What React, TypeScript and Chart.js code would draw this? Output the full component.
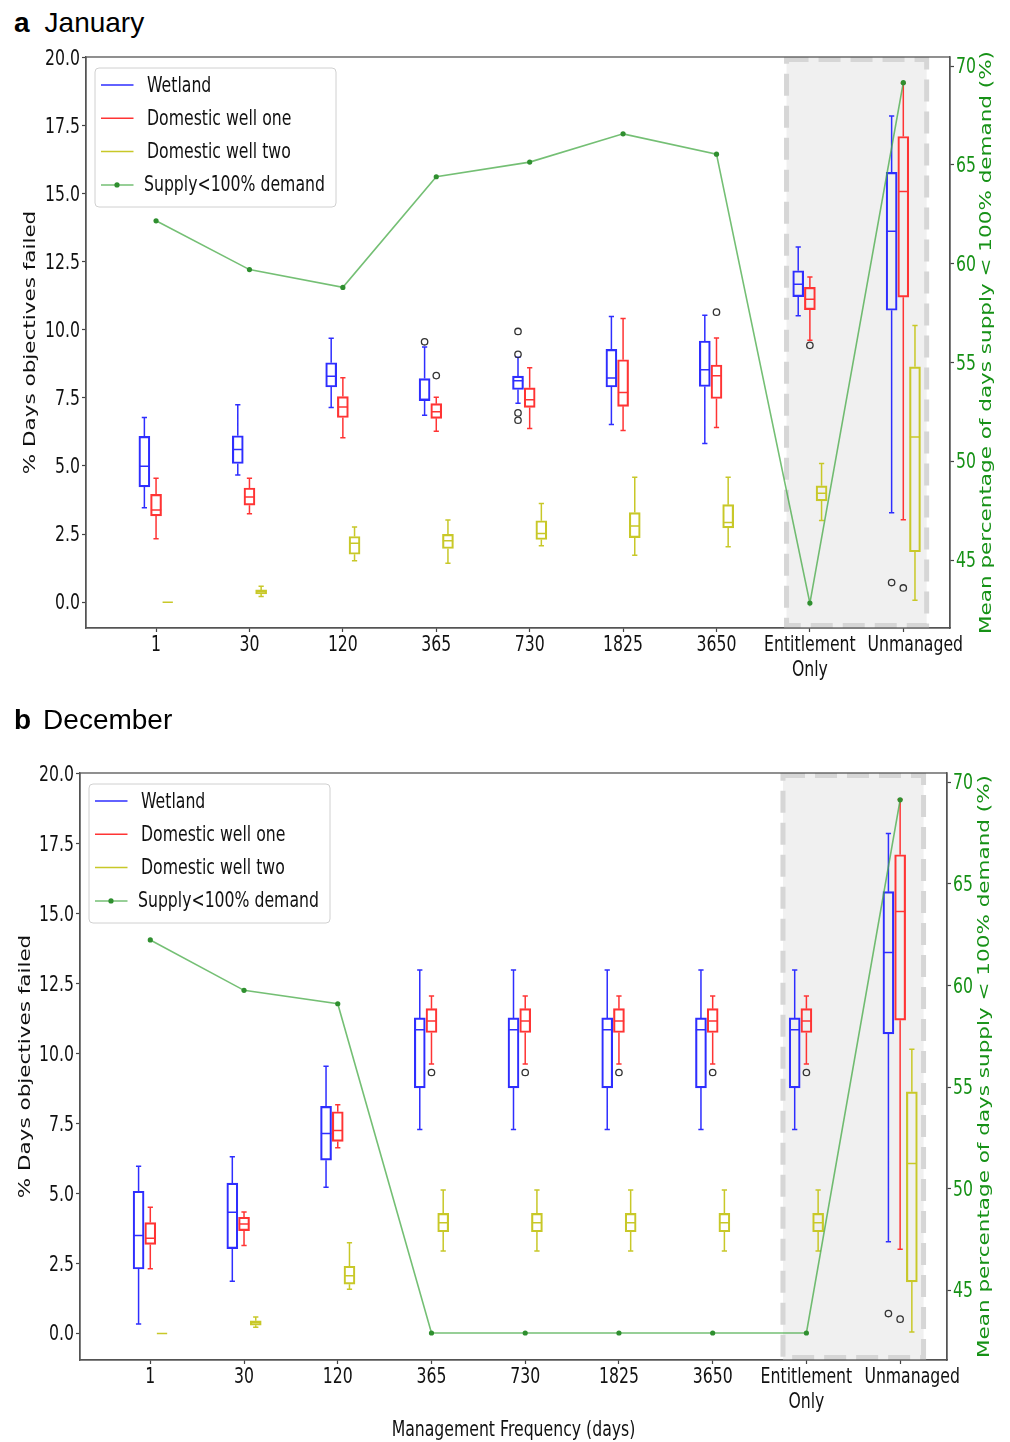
import React, { useEffect, useRef } from "react";
import { Chart, registerables } from "chart.js";
Chart.register(...registerables);

// ---------- data ----------
const categories: string[][] = [["1"], ["30"], ["120"], ["365"], ["730"], ["1825"], ["3650"], ["Entitlement", "Only"], ["Unmanaged"]];
const seriesNames = ["Wetland", "Domestic well one", "Domestic well two"];
const supplyName = "Supply<100% demand";
const leftTicks = [0, 2.5, 5, 7.5, 10, 12.5, 15, 17.5, 20];
const rightTicks = [45, 50, 55, 60, 65, 70];
const leftTitle = "% Days objectives failed";
const rightTitle = "Mean percentage of days supply < 100% demand (%)";
const xTitle = "Management Frequency (days)";

// box stats per category: [lower whisker, Q1, median, Q3, upper whisker]
const janWetland = [
  [3.47, 4.23, 4.99, 6.09, 6.78], [4.67, 5.09, 5.61, 6.11, 7.25], [7.15, 7.9, 8.3, 8.79, 9.69],
  [6.86, 7.4, 7.44, 8.21, 9.37], [7.3, 7.81, 8.13, 8.3, 8.99], [6.52, 7.9, 8.23, 9.28, 10.49],
  [5.83, 7.92, 8.53, 9.59, 10.54], [10.52, 11.22, 11.67, 12.17, 13.04], [3.28, 10.72, 13.62, 15.78, 17.85],
];
const janWetlandOut = [[], [], [], [9.56], [9.94, 9.1, 6.95, 6.68], [], [], [], [0.72]];
const janWellOne = [
  [2.33, 3.17, 3.38, 3.96, 4.55], [3.25, 3.56, 3.86, 4.19, 4.55], [6.04, 6.78, 7.17, 7.55, 8.24],
  [6.28, 6.75, 6.99, 7.29, 7.52], [6.38, 7.15, 7.43, 7.87, 8.61], [6.3, 7.19, 7.7, 8.9, 10.42],
  [6.41, 7.48, 8.31, 8.71, 9.7], [9.62, 10.74, 11.12, 11.56, 11.94], [3.03, 11.2, 15.08, 17.1, 19.06],
];
const janWellOneOut = [[], [], [], [8.32], [], [], [10.65], [9.43], [0.52]];
const janWellTwo = [
  [0, 0, 0, 0, 0], [0.21, 0.3, 0.39, 0.45, 0.58], [1.52, 1.76, 2.16, 2.41, 2.76],
  [1.43, 1.97, 2.25, 2.49, 3.02], [2.07, 2.3, 2.52, 2.99, 3.62], [1.72, 2.37, 2.8, 3.29, 4.59],
  [2.03, 2.73, 2.92, 3.58, 4.59], [3.0, 3.72, 4.0, 4.27, 5.09], [0.07, 1.85, 6.06, 8.64, 10.16],
];
const janWellTwoOut = [[], [], [], [], [], [], [], [], []];
const janSupply = [62.17, 59.7, 58.8, 64.4, 65.14, 66.57, 65.54, 42.82, 69.16];

const decWetland = [
  [0.34, 2.3, 3.5, 5.08, 5.97], [1.86, 3.03, 4.33, 5.37, 6.31], [5.22, 6.19, 7.14, 8.11, 9.54],
  [7.28, 8.77, 10.85, 11.27, 12.98], [7.28, 8.77, 10.85, 11.27, 12.98], [7.28, 8.77, 10.85, 11.27, 12.98],
  [7.28, 8.77, 10.85, 11.27, 12.98], [7.28, 8.77, 10.85, 11.27, 12.98], [3.27, 10.7, 13.61, 15.78, 17.86],
];
const decWetlandOut = [[], [], [], [], [], [], [], [], [0.71]];
const decWellOne = [
  [2.31, 3.18, 3.4, 3.96, 4.51], [3.14, 3.67, 3.91, 4.15, 4.34], [6.63, 6.86, 7.25, 7.92, 8.17],
  [9.62, 10.75, 11.16, 11.6, 12.05], [9.62, 10.75, 11.16, 11.6, 12.05], [9.62, 10.75, 11.16, 11.6, 12.05],
  [9.62, 10.75, 11.16, 11.6, 12.05], [9.62, 10.75, 11.16, 11.6, 12.05], [3.01, 11.19, 15.07, 17.1, 19.07],
];
const decWellOneOut = [[], [], [], [9.32], [9.32], [9.32], [9.32], [9.32], [0.51]];
const decWellTwo = [
  [0, 0, 0, 0, 0], [0.22, 0.29, 0.38, 0.45, 0.59], [1.58, 1.76, 2.06, 2.4, 3.24],
  [2.94, 3.63, 3.95, 4.29, 5.12], [2.94, 3.63, 3.95, 4.29, 5.12], [2.94, 3.63, 3.95, 4.29, 5.12],
  [2.94, 3.63, 3.95, 4.29, 5.12], [2.94, 3.63, 3.95, 4.29, 5.12], [0.05, 1.84, 6.07, 8.63, 10.15],
];
const decWellTwoOut = [[], [], [], [], [], [], [], [], []];
const decSupply = [62.24, 59.76, 59.1, 42.89, 42.89, 42.89, 42.89, 42.89, 69.14];

// shaded region (x units)
const shadeRange = [6.75, 8.25];

// ---------- styling ----------
const COLORS = ["#2e2eff", "#ff3434", "#c8c828"];
const GREEN_LINE = "rgba(70,170,70,0.75)";
const GREEN_DOT = "#2f8f2f";
const GREEN_TXT = "#169116";
const TXT = "#111";
const SX = 0.73; // horizontal squeeze of all figure text
const FONT = "21.5px 'DejaVu Sans', sans-serif";
const OFFSETS = [-0.125, 0, 0.125];
const BOX_HALF = 0.055;
const CAP_HALF = 0.028;
const X_LABEL_NUDGE = [0, 0, 0, 0, 0, 0, 0, 0, 12]; // px shift of tick label text

type PanelCfg = {
  top: number; height: number; padTop: number; leftW: number; rightW: number; xH: number;
  lTitleX: number; rTitleX: number; xLabelDy: number; xTitleY?: number;
  stats: number[][][]; outs: number[][][]; supply: number[];
};

function sqText(ctx: CanvasRenderingContext2D, text: string, x: number, y: number,
  align: CanvasTextAlign, color: string, rot = 0) {
  ctx.save();
  ctx.translate(x, y);
  ctx.scale(SX, 1);
  if (rot) ctx.rotate(rot);
  ctx.font = FONT;
  ctx.fillStyle = color;
  ctx.textAlign = align;
  ctx.textBaseline = "middle";
  ctx.fillText(text, 0, 0);
  ctx.restore();
}

function buildDatasets(p: PanelCfg) {
  const ds: any[] = [];
  ds.push({
    type: "line", label: supplyName, yAxisID: "y1", xAxisID: "x",
    data: p.supply.map((v, i) => ({ x: i, y: v })),
    borderColor: GREEN_LINE, borderWidth: 1.6, pointRadius: 2.6, pointHoverRadius: 2.6,
    pointBackgroundColor: GREEN_DOT, pointBorderWidth: 0, tension: 0, fill: false,
  });
  p.stats.forEach((stats, k) => {
    const off = OFFSETS[k];
    const outPts: any[] = [];
    p.outs[k].forEach((arr, i) => arr.forEach((v) => outPts.push({ x: i + off, y: v })));
    ds.push({
      type: "line", label: seriesNames[k] + " outliers", yAxisID: "y", xAxisID: "x", data: outPts,
      showLine: false, pointRadius: 3.2, pointStyle: "circle", pointBackgroundColor: "rgba(0,0,0,0)",
      pointBorderColor: "#333", pointBorderWidth: 1.3,
    });
    const segs: any[] = [];
    stats.forEach((s, i) => {
      const x = i + off;
      const gap = { x, y: null };
      segs.push({ x, y: s[0] }, { x, y: s[1] }, gap);
      segs.push({ x, y: s[3] }, { x, y: s[4] }, gap);
      segs.push({ x: x - CAP_HALF, y: s[0] }, { x: x + CAP_HALF, y: s[0] }, gap);
      segs.push({ x: x - CAP_HALF, y: s[4] }, { x: x + CAP_HALF, y: s[4] }, gap);
      segs.push({ x: x - BOX_HALF, y: s[2] }, { x: x + BOX_HALF, y: s[2] }, gap);
    });
    ds.push({
      type: "line", label: seriesNames[k] + " whiskers", yAxisID: "y", xAxisID: "x", data: segs,
      borderColor: COLORS[k], borderWidth: 1.5, pointRadius: 0, spanGaps: false, tension: 0, fill: false,
    });
    ds.push({
      type: "bar", label: seriesNames[k], yAxisID: "y", xAxisID: "x",
      data: stats.map((s, i) => ({ x: i + off, y: [s[1], s[3]] })),
      backgroundColor: "rgba(0,0,0,0)", borderColor: COLORS[k], borderWidth: 1.5, borderSkipped: false,
      barThickness: 11, grouped: false,
    });
  });
  return ds;
}

function drawLegend(ctx: CanvasRenderingContext2D, area: any) {
  const bx = area.left + 9, by = area.top + 11, bw = 241, bh = 139, r = 4;
  ctx.save();
  ctx.beginPath();
  ctx.moveTo(bx + r, by);
  ctx.arcTo(bx + bw, by, bx + bw, by + bh, r);
  ctx.arcTo(bx + bw, by + bh, bx, by + bh, r);
  ctx.arcTo(bx, by + bh, bx, by, r);
  ctx.arcTo(bx, by, bx + bw, by, r);
  ctx.closePath();
  ctx.fillStyle = "rgba(255,255,255,0.85)";
  ctx.fill();
  ctx.strokeStyle = "#d0d0d0";
  ctx.lineWidth = 1;
  ctx.stroke();
  const names = [...seriesNames, supplyName];
  const cols = [...COLORS, GREEN_LINE];
  names.forEach((n, k) => {
    const y = by + 17 + 33.3 * k;
    ctx.beginPath();
    ctx.moveTo(bx + 6, y);
    ctx.lineTo(bx + 38.5, y);
    ctx.strokeStyle = cols[k];
    ctx.lineWidth = 1.5;
    ctx.stroke();
    if (k === 3) {
      ctx.beginPath();
      ctx.arc(bx + 22, y, 2.6, 0, Math.PI * 2);
      ctx.fillStyle = GREEN_DOT;
      ctx.fill();
    }
    sqText(ctx, n, bx + (k === 3 ? 49 : 52), y + 1, "left", TXT);
  });
  ctx.restore();
}

function makeDecor(p: PanelCfg) {
  return {
    id: "decor",
    beforeDatasetsDraw(chart: any) {
      const { ctx, chartArea: a, scales } = chart;
      const x0 = scales.x.getPixelForValue(shadeRange[0]);
      const x1 = scales.x.getPixelForValue(shadeRange[1]);
      ctx.save();
      ctx.fillStyle = "#f0f0f0";
      ctx.fillRect(x0, a.top, x1 - x0, a.bottom - a.top);
      ctx.strokeStyle = "#d6d6d6";
      ctx.lineWidth = 5;
      ctx.setLineDash([22, 10]);
      ctx.strokeRect(x0, a.top + 2.5, x1 - x0, a.bottom - a.top - 5);
      ctx.restore();
    },
    afterDraw(chart: any) {
      const { ctx, chartArea: a, scales } = chart;
      ctx.save();
      ctx.strokeStyle = "#555";
      ctx.lineWidth = 1.3;
      ctx.strokeRect(a.left, a.top, a.right - a.left, a.bottom - a.top);
      ctx.restore();
      // tick labels
      categories.forEach((lines, i) => {
        const px = scales.x.getPixelForValue(i) + X_LABEL_NUDGE[i];
        lines.forEach((t, j) => sqText(ctx, t, px, a.bottom + p.xLabelDy + 25 * j, "center", TXT));
      });
      leftTicks.forEach((v) => sqText(ctx, v.toFixed(1), a.left - 6, scales.y.getPixelForValue(v) + 1.5, "right", TXT));
      rightTicks.forEach((v) => sqText(ctx, String(v), a.right + 6, scales.y1.getPixelForValue(v) + 1.5, "left", GREEN_TXT));
      const mid = (a.top + a.bottom) / 2;
      sqText(ctx, leftTitle, p.lTitleX, mid, "center", TXT, -Math.PI / 2);
      sqText(ctx, rightTitle, p.rTitleX, mid, "center", GREEN_TXT, -Math.PI / 2);
      if (p.xTitleY) sqText(ctx, xTitle, (a.left + a.right) / 2, p.xTitleY, "center", TXT);
      drawLegend(ctx, a);
    },
  };
}

function axisCommon(extra: any) {
  return {
    ticks: { display: false },
    grid: { display: true, drawOnChartArea: false, drawTicks: true, tickLength: 4, color: "#444", tickWidth: 1.2, offset: false },
    border: { display: true, color: "#555", width: 1.3 },
    title: { display: false },
    ...extra,
  };
}

function makeConfig(p: PanelCfg): any {
  return {
    type: "bar",
    data: { datasets: buildDatasets(p) },
    options: {
      responsive: false,
      animation: false,
      devicePixelRatio: 1,
      layout: { padding: { top: p.padTop, left: 0, right: 0, bottom: 0 } },
      plugins: { legend: { display: false }, tooltip: { enabled: false } },
      scales: {
        x: axisCommon({
          type: "linear", position: "bottom", min: -0.75, max: 8.5, offset: false,
          afterBuildTicks: (s: any) => { s.ticks = categories.map((_, i) => ({ value: i })); },
          afterFit: (s: any) => { s.height = p.xH; },
        }),
        y: axisCommon({
          type: "linear", position: "left", min: -0.95, max: 20.02,
          afterBuildTicks: (s: any) => { s.ticks = leftTicks.map((v) => ({ value: v })); },
          afterFit: (s: any) => { s.width = p.leftW; },
        }),
        y1: axisCommon({
          type: "linear", position: "right", min: 41.56, max: 70.46,
          afterBuildTicks: (s: any) => { s.ticks = rightTicks.map((v) => ({ value: v })); },
          afterFit: (s: any) => { s.width = p.rightW; },
        }),
      },
    },
    plugins: [makeDecor(p)],
  };
}

const panelA: PanelCfg = {
  top: 40, height: 660, padTop: 17, leftW: 86, rightW: 60, xH: 72,
  lTitleX: 31, rTitleX: 987, xLabelDy: 17.5,
  stats: [janWetland, janWellOne, janWellTwo], outs: [janWetlandOut, janWellOneOut, janWellTwoOut], supply: janSupply,
};
const panelB: PanelCfg = {
  top: 700, height: 742, padTop: 73, leftW: 80, rightW: 63, xH: 82,
  lTitleX: 26, rTitleX: 985, xLabelDy: 17, xTitleY: 730,
  stats: [decWetland, decWellOne, decWellTwo], outs: [decWetlandOut, decWellOneOut, decWellTwoOut], supply: decSupply,
};

function Panel({ cfg }: { cfg: PanelCfg }) {
  const ref = useRef<HTMLCanvasElement>(null);
  useEffect(() => {
    const chart = new Chart(ref.current as HTMLCanvasElement, makeConfig(cfg));
    return () => chart.destroy();
  }, [cfg]);
  return (
    <canvas ref={ref} width={1010} height={cfg.height}
      style={{ position: "absolute", left: 0, top: cfg.top, width: 1010, height: cfg.height }} />
  );
}

const titleStyle: React.CSSProperties = {
  position: "absolute", left: 14, fontFamily: "'Liberation Sans', Arial, sans-serif", fontSize: 28,
  lineHeight: "28px", color: "#000", whiteSpace: "nowrap",
};

export default function App() {
  return (
    <div style={{ position: "absolute", left: 0, top: 0, width: 1010, height: 1442, background: "#fff" }}>
      <Panel cfg={panelA} />
      <Panel cfg={panelB} />
      <div style={{ ...titleStyle, top: 9 }}>
        <b>a</b><span style={{ marginLeft: 15 }}>January</span>
      </div>
      <div style={{ ...titleStyle, top: 706 }}>
        <b>b</b><span style={{ marginLeft: 12 }}>December</span>
      </div>
    </div>
  );
}
